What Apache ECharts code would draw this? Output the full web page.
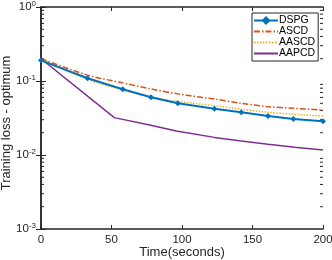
<!DOCTYPE html>
<html><head><meta charset="utf-8">
<script src="https://cdn.jsdelivr.net/npm/echarts@6/dist/echarts.min.js"></script>
<style>html,body{margin:0;padding:0;background:#fff}#c{width:332px;height:260px}</style>
</head><body><div id="c"></div>
<script>
const seriesNames = ['DSPG','ASCD','AASCD','AAPCD'];
const xTitle = 'Time(seconds)';
const yTitle = 'Training loss - optimum';
const xDSPG = [0,33,58,78,97,123,142,161,179,200];
const yDSPG = [0.19,0.109,0.0773,0.0602,0.050,0.0422,0.0378,0.0337,0.0306,0.0285];
const xASCD = [0,33,56,78,97,123,142,161,179,200];
const yASCD = [0.2,0.12,0.096,0.078,0.067,0.057,0.050,0.045,0.0428,0.0405];
const xAASCD = [0,33,58,78,97,123,142,161,179,200];
const yAASCD = [0.195,0.105,0.0755,0.061,0.053,0.0464,0.0415,0.0378,0.0355,0.0337];
const xAAPCD = [0,52,77,96,123,142,161,180,200];
const yAAPCD = [0.2,0.032,0.0254,0.0211,0.0173,0.0155,0.014,0.0127,0.0117];
const yDecades = [0.001,0.01,0.1,1];
const minorVals = [];
for (let d = 0; d < 3; d++) for (let k = 2; k <= 9; k++) minorVals.push(k * yDecades[d]);

const zip = (xs, ys) => xs.map((x, i) => [x, ys[i]]);
const axisCol = '#262626';
const font = 'Liberation Sans, Arial, sans-serif';
const chart = echarts.init(document.getElementById('c'));
const yLabel = v => {
  const e = Math.round(Math.log10(v));
  return '{b|10}{s|' + e + '}';
};
const hideSym = {opacity: 0};
chart.setOption({
  animation: false,
  textStyle: {fontFamily: font},
  grid: {left: 41, right: 9, top: 7, bottom: 31, containLabel: false, outerBoundsMode: 'none'},
  graphic: [
    {type: 'text', x: 182, y: 246, z: 10,
     style: {text: xTitle, fontSize: 13, fill: axisCol, fontFamily: font,
             textAlign: 'center', textVerticalAlign: 'top'}},
    {type: 'text', x: 0, y: 123, rotation: Math.PI / 2, z: 10,
     style: {text: yTitle, fontSize: 13, fill: axisCol, fontFamily: font,
             textAlign: 'center', textVerticalAlign: 'top'}}
  ],
  legend: {
    left: 252, top: 13, orient: 'vertical', backgroundColor: '#fff',
    borderColor: axisCol, borderWidth: 1, padding: [2, 3, 2, 1], itemGap: 0,
    itemWidth: 24, itemHeight: 11,
    textStyle: {fontSize: 10.5, color: '#000', fontFamily: font, padding: [0, 0, 0, -4]},
    data: [
      {name: 'DSPG'},
      {name: 'ASCD', itemStyle: hideSym},
      {name: 'AASCD', itemStyle: hideSym},
      {name: 'AAPCD', itemStyle: hideSym}
    ]
  },
  xAxis: [{
    type: 'value', min: 0, max: 200, interval: 50, position: 'bottom',
    axisLine: {lineStyle: {color: axisCol, width: 1.5}},
    axisTick: {inside: true, length: 4, lineStyle: {color: axisCol}},
    axisLabel: {fontSize: 11.5, color: axisCol, margin: 5},
    splitLine: {show: false}
  }, {
    type: 'value', min: 0, max: 200, interval: 50, position: 'top',
    axisLine: {show: true, lineStyle: {color: axisCol, width: 1.5}},
    axisTick: {inside: true, length: 4, lineStyle: {color: axisCol}},
    axisLabel: {show: false}, splitLine: {show: false}
  }],
  yAxis: [{
    type: 'log', logBase: 10, min: 0.001, max: 1, position: 'left',
    axisLine: {show: true, lineStyle: {color: axisCol, width: 1.5}},
    axisTick: {show: true, inside: true, length: 5, lineStyle: {color: axisCol}},
    axisLabel: {
      formatter: yLabel, margin: 5,
      rich: {
        b: {fontSize: 11.5, color: axisCol, fontFamily: font},
        s: {fontSize: 8, color: axisCol, fontFamily: font, verticalAlign: 'top', padding: [0, 0, 6, 0]}
      }
    },
    splitLine: {show: false}
  }, {
    type: 'log', logBase: 10, min: 0.001, max: 1, position: 'right',
    axisLine: {show: true, lineStyle: {color: axisCol, width: 1.5}},
    axisTick: {show: true, inside: true, length: 5, lineStyle: {color: axisCol}},
    axisLabel: {show: false}, splitLine: {show: false}
  }],
  series: [
    {
      type: 'custom', name: 'minor', silent: true, z: 1,
      data: minorVals.map(v => [0, v]),
      renderItem: (params, api) => {
        const p = api.coord([0, api.value(1)]);
        const q = api.coord([200, api.value(1)]);
        const st = {stroke: axisCol, lineWidth: 1};
        return {type: 'group', children: [
          {type: 'line', shape: {x1: p[0], y1: p[1], x2: p[0] + 3, y2: p[1]}, style: st},
          {type: 'line', shape: {x1: q[0], y1: q[1], x2: q[0] - 3, y2: q[1]}, style: st}
        ]};
      }
    },
    {name: 'DSPG', type: 'line', data: zip(xDSPG, yDSPG), symbol: 'diamond', symbolSize: 6,
     showSymbol: true, color: '#0072BD', lineStyle: {width: 2}, z: 5},
    {name: 'ASCD', type: 'line', data: zip(xASCD, yASCD), symbol: 'none', smooth: 0.3,
     color: '#D95319', lineStyle: {width: 1.5, type: [6, 2, 1.5, 2]}, z: 3},
    {name: 'AASCD', type: 'line', data: zip(xAASCD, yAASCD), symbol: 'none', smooth: 0.3,
     color: '#EDB120', lineStyle: {width: 1.5, type: [1.5, 1.5]}, z: 4},
    {name: 'AAPCD', type: 'line', data: zip(xAAPCD, yAAPCD), symbol: 'none',
     color: '#7E2F8E', lineStyle: {width: 1.5}, z: 3}
  ]
});
</script></body></html>
